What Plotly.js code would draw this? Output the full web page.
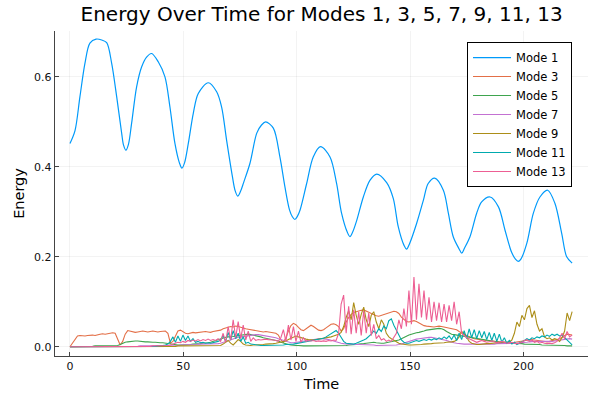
<!DOCTYPE html>
<html>
<head>
<meta charset="utf-8">
<script src="https://cdn.plot.ly/plotly-3.0.1.min.js"></script>
<style>html,body{margin:0;padding:0;background:#fff;}#chart{width:600px;height:400px;}</style>
</head>
<body>
<div id="chart"></div>
<script>
// Mode 1: hand-read points along the curve
const time1 = [0,2.2,4.4,6.6,8.8,11.5,14,16.2,18.4,20.6,22.8,23.6,24.7,25.8,27.2,29.4,31.6,33.8,36,39,41.9,44.1,46.3,48.2,49.4,50.6,52.2,54.4,56.6,61,64.7,66.9,69.1,71.6,72.8,74,75.2,76.6,79.4,82.4,84.5,86.3,89.7,92.6,94.8,96.8,98.1,99.2,100.3,101.5,104.4,107.3,110.5,114.7,117.6,119.8,122.3,123.5,124.7,126.5,129.4,132.3,135.3,139.7,142.6,144.8,147.3,148.5,149.7,152.9,155.9,158,160.9,164.7,166.9,169.1,171.6,172.8,174,176.4,179.4,181.6,185.3,189,191.9,194.8,196.5,197.7,198.9,201.5,204.4,207.3,210.7,213.9,216.9,219.1,221.5];
const mode1 = [0.452,0.48,0.556,0.63,0.675,0.684,0.682,0.676,0.63,0.556,0.475,0.449,0.437,0.45,0.497,0.578,0.622,0.644,0.652,0.633,0.60,0.533,0.452,0.41,0.397,0.41,0.452,0.519,0.563,0.587,0.567,0.533,0.459,0.38,0.348,0.335,0.345,0.365,0.408,0.475,0.493,0.50,0.486,0.422,0.356,0.305,0.289,0.283,0.29,0.304,0.363,0.422,0.445,0.422,0.363,0.297,0.255,0.245,0.255,0.281,0.333,0.37,0.384,0.365,0.33,0.267,0.226,0.217,0.228,0.274,0.326,0.363,0.375,0.348,0.297,0.244,0.218,0.208,0.219,0.244,0.297,0.322,0.333,0.311,0.259,0.21,0.195,0.19,0.195,0.23,0.297,0.333,0.348,0.319,0.252,0.20,0.186];

// Higher modes: read on a regular time grid (201 samples, 0 .. 221.5)
const mode3 = [
0.000,0.008,0.018,0.024,0.025,0.024,0.024,0.025,0.026,0.026,0.025,0.027,0.028,0.029,0.028,0.029,0.030,0.031,0.030,0.015,
0.004,0.012,0.028,0.036,0.035,0.033,0.032,0.033,0.034,0.035,0.034,0.033,0.034,0.035,0.034,0.033,0.034,0.035,0.035,0.030,
0.008,0.012,0.025,0.035,0.037,0.034,0.030,0.029,0.031,0.032,0.031,0.032,0.033,0.034,0.034,0.033,0.032,0.034,0.035,0.036,
0.037,0.040,0.042,0.044,0.045,0.044,0.046,0.045,0.043,0.041,0.040,0.039,0.038,0.036,0.035,0.034,0.034,0.033,0.034,0.033,
0.033,0.032,0.030,0.026,0.015,0.010,0.020,0.035,0.047,0.052,0.049,0.043,0.038,0.036,0.040,0.046,0.048,0.045,0.040,0.037,
0.036,0.038,0.042,0.047,0.050,0.051,0.049,0.045,0.035,0.040,0.055,0.065,0.072,0.076,0.078,0.080,0.081,0.082,0.080,0.077,
0.074,0.071,0.069,0.068,0.070,0.072,0.074,0.076,0.078,0.079,0.078,0.074,0.066,0.060,0.056,0.055,0.057,0.058,0.056,0.053,
0.050,0.047,0.046,0.045,0.044,0.044,0.045,0.046,0.045,0.044,0.043,0.042,0.041,0.040,0.038,0.034,0.030,0.028,0.025,0.022,
0.020,0.018,0.017,0.016,0.015,0.015,0.014,0.013,0.013,0.012,0.012,0.011,0.011,0.010,0.010,0.009,0.009,0.010,0.011,0.012,
0.012,0.013,0.014,0.015,0.016,0.015,0.014,0.013,0.012,0.011,0.011,0.012,0.013,0.014,0.016,0.018,0.022,0.026,0.028,0.027,
0.026];
const mode5 = [
0,0,0,0.001,0.001,0.001,0.001,0.001,0.001,0.001,0.002,0.002,0.002,0.002,0.002,0.002,0.002,0.002,0.002,0.003,
0.005,0.008,0.010,0.011,0.012,0.012,0.013,0.013,0.012,0.012,0.011,0.011,0.010,0.010,0.010,0.009,0.009,0.009,0.008,0.007,
0.006,0.005,0.005,0.004,0.004,0.004,0.005,0.005,0.005,0.006,0.006,0.007,0.007,0.008,0.008,0.009,0.010,0.012,0.014,0.016,
0.018,0.020,0.021,0.022,0.022,0.023,0.024,0.025,0.026,0.027,0.028,0.028,0.027,0.026,0.025,0.024,0.022,0.020,0.019,0.018,
0.017,0.016,0.015,0.013,0.010,0.008,0.006,0.005,0.004,0.003,0.003,0.003,0.002,0.002,0.002,0.002,0.002,0.002,0.003,0.003,
0.003,0.003,0.002,0.002,0.002,0.002,0.002,0.002,0.002,0.003,0.003,0.004,0.004,0.005,0.005,0.006,0.006,0.007,0.008,0.009,
0.010,0.010,0.009,0.008,0.008,0.008,0.009,0.010,0.011,0.012,0.013,0.015,0.018,0.021,0.024,0.026,0.028,0.030,0.031,0.032,
0.033,0.035,0.037,0.038,0.039,0.039,0.040,0.041,0.040,0.038,0.034,0.030,0.028,0.027,0.026,0.025,0.024,0.024,0.023,0.022,
0.021,0.020,0.019,0.018,0.017,0.016,0.015,0.014,0.013,0.012,0.011,0.010,0.010,0.009,0.009,0.008,0.008,0.008,0.007,0.007,
0.007,0.006,0.006,0.006,0.005,0.005,0.005,0.005,0.004,0.004,0.004,0.004,0.004,0.003,0.003,0.003,0.003,0.003,0.002,0.002,
0.002];
const mode7 = [
0,0,0,0,0,0,0,0,0,0,0,0,0,0,0,0.001,0.001,0.001,0.001,0.001,
0.001,0.001,0.001,0.001,0.001,0.001,0.001,0.001,0.002,0.002,0.002,0.002,0.002,0.002,0.002,0.002,0.002,0.002,0.002,0.002,
0.002,0.003,0.003,0.003,0.004,0.004,0.004,0.005,0.005,0.005,0.005,0.006,0.006,0.006,0.006,0.006,0.007,0.007,0.007,0.007,
0.008,0.010,0.012,0.014,0.016,0.018,0.020,0.021,0.022,0.023,0.024,0.025,0.026,0.026,0.027,0.027,0.026,0.026,0.025,0.024,
0.023,0.022,0.020,0.018,0.016,0.014,0.012,0.010,0.009,0.009,0.010,0.011,0.012,0.013,0.014,0.015,0.016,0.017,0.017,0.018,
0.018,0.018,0.017,0.016,0.015,0.013,0.011,0.009,0.008,0.007,0.006,0.006,0.006,0.005,0.005,0.005,0.005,0.004,0.004,0.004,
0.004,0.004,0.003,0.003,0.003,0.003,0.003,0.003,0.004,0.004,0.004,0.005,0.006,0.008,0.010,0.012,0.014,0.016,0.017,0.018,
0.019,0.020,0.020,0.021,0.021,0.020,0.019,0.018,0.017,0.016,0.014,0.012,0.010,0.009,0.008,0.007,0.007,0.006,0.006,0.006,
0.006,0.006,0.006,0.005,0.005,0.005,0.005,0.005,0.006,0.006,0.007,0.007,0.008,0.008,0.008,0.008,0.008,0.008,0.008,0.009,
0.009,0.010,0.010,0.011,0.012,0.012,0.012,0.012,0.011,0.011,0.011,0.012,0.012,0.013,0.014,0.015,0.016,0.017,0.018,0.018,
0.017];
const mode9 = [
0,0,0,0,0,0,0,0,0,0,0,0,0,0,0,0,0,0,0,0,
0,0,0,0,0,0,0,0,0,0,0.001,0.001,0.001,0.001,0.001,0.001,0.001,0.001,0.001,0.001,
0.001,0.001,0.001,0.002,0.002,0.002,0.002,0.002,0.002,0.002,0.002,0.003,0.003,0.003,0.003,0.003,0.003,0.003,0.003,0.003,
0.003,0.006,0.010,0.014,0.008,0.004,0.010,0.016,0.012,0.006,0.004,0.003,0.003,0.004,0.004,0.005,0.005,0.005,0.006,0.006,
0.006,0.007,0.008,0.009,0.010,0.011,0.013,0.016,0.019,0.022,0.024,0.022,0.020,0.018,0.017,0.016,0.015,0.015,0.016,0.017,
0.017,0.018,0.019,0.020,0.022,0.024,0.026,0.028,0.032,0.045,0.065,0.080,0.060,0.098,0.070,0.050,0.072,0.088,0.060,0.045,
0.070,0.078,0.055,0.040,0.060,0.050,0.030,0.022,0.018,0.014,0.010,0.008,0.006,0.005,0.005,0.004,0.004,0.004,0.005,0.005,
0.005,0.006,0.006,0.007,0.007,0.008,0.008,0.008,0.009,0.009,0.010,0.010,0.011,0.012,0.015,0.022,0.034,0.030,0.020,0.012,
0.008,0.006,0.005,0.005,0.006,0.006,0.007,0.007,0.008,0.008,0.009,0.009,0.010,0.010,0.010,0.011,0.015,0.030,0.055,0.045,
0.070,0.060,0.085,0.092,0.065,0.080,0.050,0.035,0.040,0.022,0.018,0.020,0.015,0.018,0.016,0.012,0.020,0.035,0.075,0.058,
0.078];
const mode11 = [
0,0,0,0,0,0,0,0,0,0,0,0,0,0,0,0,0,0,0,0,
0,0,0,0,0,0,0,0,0,0,0,0.001,0.001,0.001,0.001,0.002,0.002,0.003,0.004,0.006,
0.012,0.022,0.010,0.024,0.012,0.026,0.014,0.024,0.012,0.018,0.010,0.012,0.009,0.010,0.008,0.009,0.008,0.009,0.010,0.012,
0.015,0.025,0.012,0.032,0.015,0.036,0.018,0.030,0.012,0.022,0.008,0.010,0.006,0.005,0.004,0.004,0.003,0.003,0.003,0.003,
0.003,0.003,0.003,0.004,0.004,0.004,0.005,0.005,0.006,0.006,0.007,0.008,0.009,0.010,0.011,0.012,0.013,0.014,0.015,0.016,
0.017,0.019,0.022,0.026,0.030,0.034,0.036,0.030,0.020,0.012,0.008,0.007,0.006,0.006,0.008,0.010,0.012,0.015,0.018,0.022,
0.028,0.035,0.030,0.040,0.034,0.046,0.040,0.058,0.062,0.048,0.038,0.025,0.015,0.010,0.008,0.008,0.010,0.012,0.014,0.012,
0.014,0.016,0.014,0.017,0.015,0.018,0.016,0.020,0.017,0.022,0.018,0.024,0.016,0.026,0.014,0.030,0.016,0.036,0.018,0.040,
0.020,0.038,0.018,0.036,0.020,0.034,0.016,0.032,0.014,0.030,0.012,0.028,0.010,0.020,0.008,0.014,0.006,0.010,0.005,0.008,
0.010,0.014,0.018,0.015,0.020,0.018,0.022,0.020,0.024,0.022,0.026,0.023,0.028,0.025,0.028,0.024,0.026,0.020,0.014,0.008,
0.004];
const mode13 = [
0,0,0,0,0,0,0,0,0,0,0,0,0,0,0,0,0,0,0,0,
0,0,0,0,0,0,0,0.001,0.001,0.001,0.001,0.001,0.001,0.002,0.002,0.002,0.002,0.003,0.003,0.003,
0.004,0.006,0.008,0.010,0.009,0.012,0.010,0.014,0.012,0.015,0.013,0.016,0.013,0.016,0.014,0.017,0.014,0.016,0.014,0.018,
0.012,0.030,0.010,0.045,0.015,0.060,0.020,0.056,0.018,0.048,0.015,0.035,0.012,0.020,0.014,0.016,0.015,0.016,0.017,0.016,
0.016,0.015,0.014,0.012,0.020,0.038,0.012,0.048,0.015,0.045,0.012,0.035,0.010,0.020,0.012,0.014,0.013,0.014,0.012,0.013,
0.012,0.013,0.012,0.014,0.013,0.015,0.014,0.030,0.095,0.115,0.030,0.090,0.028,0.082,0.030,0.078,0.025,0.080,0.030,0.075,
0.025,0.050,0.018,0.025,0.015,0.018,0.012,0.015,0.012,0.020,0.030,0.060,0.040,0.085,0.045,0.125,0.050,0.155,0.060,0.140,
0.065,0.125,0.060,0.110,0.055,0.100,0.058,0.098,0.055,0.095,0.055,0.092,0.058,0.100,0.050,0.078,0.030,0.025,0.020,0.018,
0.015,0.012,0.010,0.012,0.014,0.012,0.010,0.011,0.013,0.011,0.009,0.010,0.012,0.010,0.008,0.009,0.010,0.008,0.007,0.008,
0.010,0.014,0.016,0.012,0.015,0.010,0.012,0.008,0.010,0.008,0.007,0.008,0.007,0.009,0.012,0.020,0.030,0.018,0.034,0.022,
0.026];

const tStart = 0, tEnd = 221.5;
const timeGrid = mode3.map((_, i) => tStart + (tEnd - tStart) * i / (mode3.length - 1));

const modeNames = ["Mode 1","Mode 3","Mode 5","Mode 7","Mode 9","Mode 11","Mode 13"];
const colors = ["#009afa","#e36f47","#3ea44e","#c371d2","#ac8e18","#00aaae","#ed5e93"];
const xTicks = [0,50,100,150,200];
const yTicks = [0,0.2,0.4,0.6];

const series = [mode3, mode5, mode7, mode9, mode11, mode13];
const traces = [{
  x: time1, y: mode1, type: 'scatter', mode: 'lines', name: modeNames[0],
  line: {color: colors[0], width: 1.2, shape: 'spline', smoothing: 0.9}
}];
series.forEach((s, k) => traces.push({
  x: timeGrid, y: s, type: 'scatter', mode: 'lines', name: modeNames[k+1],
  line: {color: colors[k+1], width: 1.1}
}));

const axisCommon = {
  showline: true, linecolor: '#444', linewidth: 1.2, mirror: false,
  showgrid: true, gridcolor: 'rgba(0,0,0,0.08)', gridwidth: 0.6,
  zeroline: false, ticks: 'inside', ticklen: 4, tickcolor: '#444', tickwidth: 1,
  tickfont: {family: 'DejaVu Sans', size: 11, color: '#111'}
};

const layout = {
  width: 600, height: 400,
  margin: {l: 55, r: 12, t: 31, b: 44},
  paper_bgcolor: '#fff', plot_bgcolor: '#fff',
  font: {family: 'DejaVu Sans', color: '#000'},
  title: {text: 'Energy Over Time for Modes 1, 3, 5, 7, 9, 11, 13', x: 0.536, xanchor: 'center', y: 0.966, yanchor: 'middle', font: {size: 20, family: 'DejaVu Sans', color: '#000'}},
  xaxis: Object.assign({}, axisCommon, {range: [-6.6, 228.5], tickvals: xTicks, ticktext: xTicks.map(String),
    title: {text: 'Time', font: {size: 14.5, family: 'DejaVu Sans'}, standoff: 6}}),
  yaxis: Object.assign({}, axisCommon, {range: [-0.0205, 0.702], tickvals: yTicks, ticktext: yTicks.map(v => v.toFixed(1)),
    title: {text: 'Energy', font: {size: 14.5, family: 'DejaVu Sans'}, standoff: 6}}),
  showlegend: true,
  legend: {x: 0.97, xanchor: 'right', y: 0.966, yanchor: 'top', bgcolor: '#fff', bordercolor: '#000', borderwidth: 1,
    font: {family: 'DejaVu Sans', size: 11.5, color: '#000'}, tracegroupgap: 0, itemwidth: 38}
};

Plotly.newPlot('chart', traces, layout, {staticPlot: true, displayModeBar: false});
</script>
</body>
</html>
